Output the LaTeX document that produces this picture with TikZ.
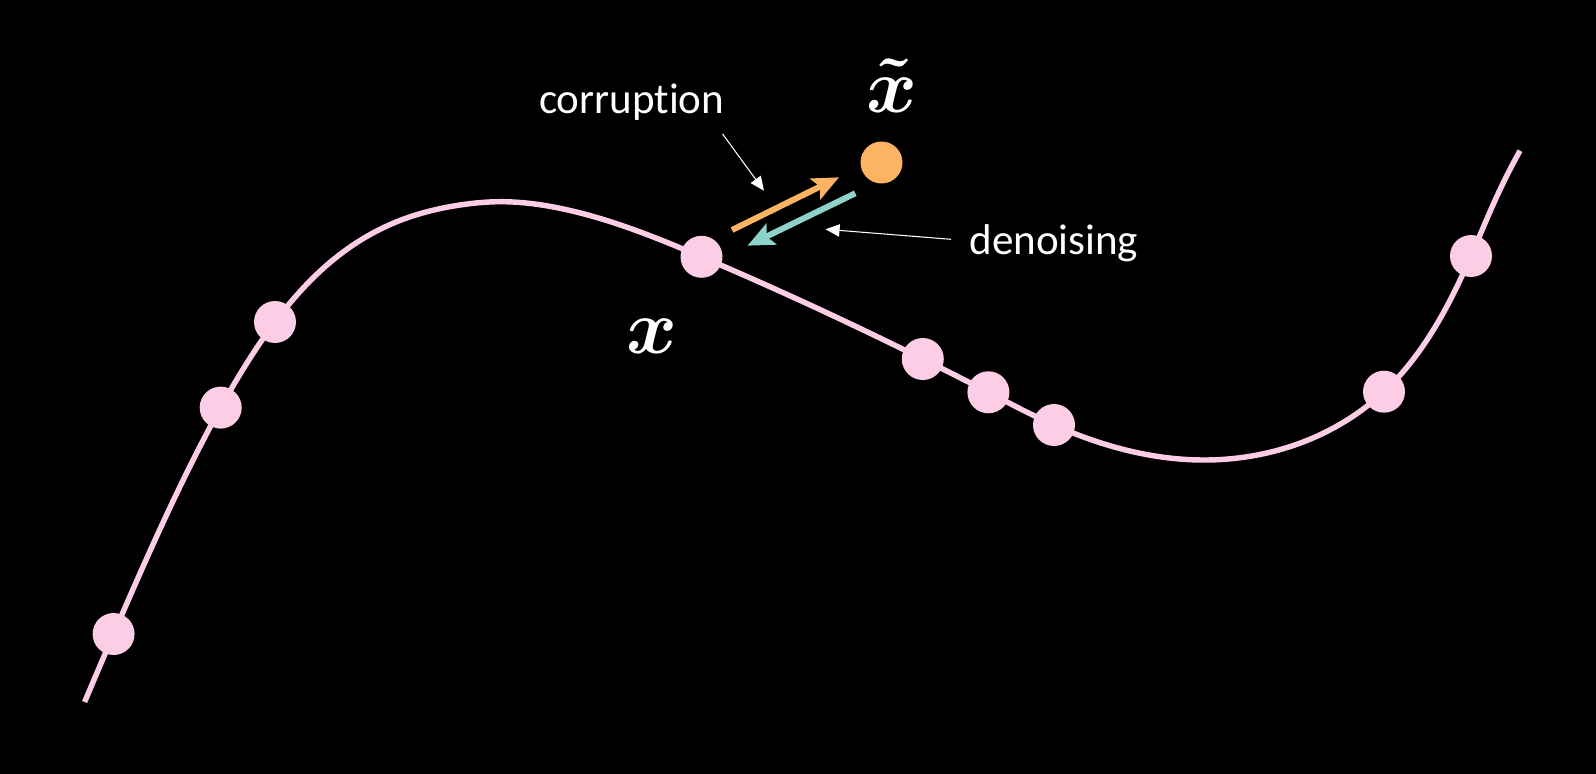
\RequirePackage{fix-cm}
\documentclass[tikz,border=0pt]{standalone}
\usepackage{fontspec}
\setmainfont{Carlito}[Ligatures=NoCommon]
\usepackage{amsmath}
\usetikzlibrary{arrows.meta,hobby}
\definecolor{dotpink}{HTML}{FCCDE5}
\definecolor{noisyorange}{HTML}{FDB462}
\definecolor{denoiseteal}{HTML}{8DD3C7}

\begin{document}
\begin{tikzpicture}[x=0.02cm,y=-0.02cm,
    datadot/.style={circle,fill=dotpink,minimum size=0.84cm,inner sep=0pt},
    tagtext/.style={text=white,font=\fontsize{24.5}{29}\selectfont,inner sep=0pt,anchor=base},
    mathtag/.style={text=white,font=\fontsize{44}{50}\selectfont,inner sep=0pt,anchor=base},
    pointer/.style={white,line width=0.6pt,-{Triangle[length=8pt,width=7pt]}},
    bigarrow/.style={line width=3.4pt,-{Stealth[length=15pt,width=13pt,inset=3pt]}}]
        \fill[black](0,0)rectangle(1596,774);
        \draw[dotpink,line width=3.1pt,use Hobby shortcut](84.6,702)..(113.6,634)..(167,514)..(220.7,407.6)..(275,322)..(327,265)..(393,223.3)..(460,205)..(500,201.7)..(560,208.3)..(701.5,256.8)..(922.8,359)..(988.4,392.3)..(1054,425)..(1207,460)..(1384,391.7)..(1433.3,330)..(1471,256)..(1496.7,196.7)..(1520,150.7);
        \foreach \px/\py [count=\i] in {113.6/634,220.7/407.6,275/322,701.5/256.8,922.8/359,988.4/392.3,1054/425,1384/391.7,1471/256}
            \node[datadot] (s\i) at (\px,\py) {};
        \node[circle,fill=noisyorange,minimum size=0.84cm,inner sep=0pt] (xt) at (881.5,162.5) {};
        \node[mathtag] (xlab) at (651.5,353) {$\boldsymbol{x}$};
        \node[mathtag] (xtlab) at (892,112) {$\boldsymbol{\tilde{x}}$};
        \node[tagtext] (corr) at (631.7,113.3) {corruption};
        \node[tagtext] (deno) at (1053.9,254) {denoising};
        \coordinate (oa) at (732,230);
        \coordinate (ob) at (839,177.3);
        \coordinate (ta) at (855.3,193.3);
        \coordinate (tb) at (747.5,245.7);
        \draw[bigarrow,noisyorange](oa)--(ob);
        \draw[bigarrow,denoiseteal](ta)--(tb);
        \coordinate (pc) at (722.6,134);
        \coordinate (pct) at (764,190.7);
        \coordinate (pd) at (951,239.3);
        \coordinate (pdt) at (825.5,229.3);
        \draw[pointer](pc)--(pct);
        \draw[pointer](pd)--(pdt);
\end{tikzpicture}
\end{document}
